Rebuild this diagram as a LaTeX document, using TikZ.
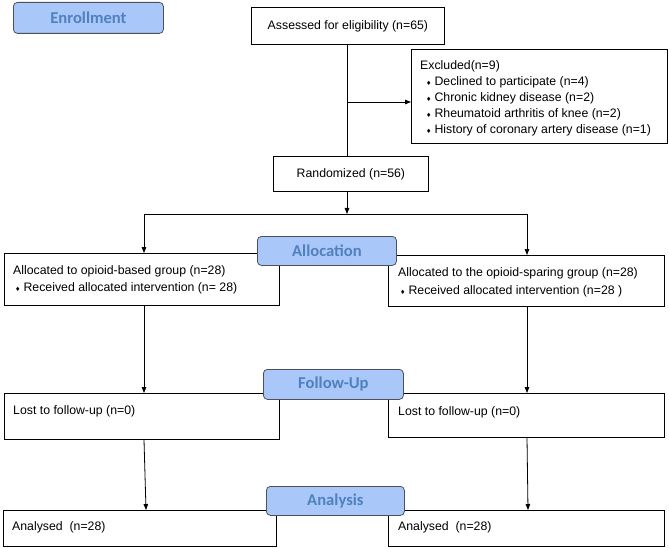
\documentclass[tikz,border=0pt]{standalone}
\usepackage{fontspec}
\setmainfont{Liberation Sans}
\newfontfamily\hdrfont{Carlito}
\newfontfamily\symfont{DejaVu Sans}
\usetikzlibrary{arrows.meta}
\definecolor{hdrfill}{RGB}{170,199,250}
\definecolor{hdrtext}{RGB}{79,129,189}
\definecolor{hdrline}{RGB}{80,80,90}
\newcommand{\bul}{{\symfont\fontsize{6}{7}\selectfont ♦}\hspace{3pt}}
\begin{document}
\begin{tikzpicture}[x=1pt,y=-1pt,
  box/.style={draw, line width=0.8pt, anchor=north west, inner sep=0pt},
  hdr/.style={draw=hdrline, fill=hdrfill, rounded corners=4pt, line width=0.8pt,
    font=\hdrfont\bfseries\fontsize{16.6}{18}\selectfont, text=hdrtext,
    anchor=north west, inner sep=0pt},
  txt/.style={anchor=west, inner sep=0pt, font=\fontsize{12.3}{14}\selectfont},
  arr/.style={-{Triangle[length=6pt,width=4.5pt]}, line width=0.8pt},
  ln/.style={line width=0.8pt}]
\useasboundingbox (0,0) rectangle (669,548);

% boxes
\node[box, minimum width=193pt, minimum height=37pt, font=\fontsize{12.3}{14}\selectfont] (assess) at (251,7) {Assessed for eligibility (n=65)};
\node[box, minimum width=256pt, minimum height=94pt] (excl) at (411,49) {};
\node[box, minimum width=155pt, minimum height=35pt, font=\fontsize{12.3}{14}\selectfont] (rand) at (273,156) {Randomized (n=56)};
\node[box, minimum width=275pt, minimum height=52pt] (allocL) at (4,253) {};
\node[box, minimum width=276pt, minimum height=51pt] (allocR) at (388,255) {};
\node[box, minimum width=275pt, minimum height=46pt] (lostL) at (4,393) {};
\node[box, minimum width=276pt, minimum height=44pt] (lostR) at (388,393) {};
\node[box, minimum width=273pt, minimum height=36pt] (anaL) at (3,510) {};
\node[box, minimum width=276pt, minimum height=36pt] (anaR) at (388,510) {};

% texts
\node[txt] (ex0) at (420,66) {Excluded(n=9)};
\node[txt] (ex1) at (426,82) {\bul Declined to participate (n=4)};
\node[txt] (ex2) at (426,98) {\bul Chronic kidney disease (n=2)};
\node[txt] (ex3) at (426,114) {\bul Rheumatoid arthritis of knee (n=2)};
\node[txt] (ex4) at (426,130) {\bul History of coronary artery disease (n=1)};
\node[txt] (aL1) at (13,271) {Allocated to opioid-based group (n=28)};
\node[txt] (aL2) at (15,288) {\bul Received allocated intervention (n= 28)};
\node[txt] (aR1) at (398,273) {Allocated to the opioid-sparing group (n=28)};
\node[txt] (aR2) at (400,291) {\bul Received allocated intervention (n=28 )};
\node[txt] (lL) at (13,411) {Lost to follow-up (n=0)};
\node[txt] (lR) at (398,412) {Lost to follow-up (n=0)};
\node[txt] (nL) at (12,527) {Analysed\ \ (n=28)};
\node[txt] (nR) at (398,527) {Analysed\ \ (n=28)};

% connectors
\coordinate (exj) at (347,102);
\coordinate (split) at (347,214);
\coordinate (sL) at (144,214);
\coordinate (sR) at (527,214);
\coordinate (sL2) at (146,214);
\coordinate (sR2) at (528,214);
\draw[ln] (exj |- assess.south) -- (exj |- rand.north);
\draw[arr] (exj) -- (excl.west |- exj);
\draw[arr] (split |- rand.south) -- (split);
\draw[ln] (sL) -- (sR);
\draw[arr] (sL) -- (sL |- allocL.north);
\draw[arr] (sR) -- (sR |- allocR.north);
\draw[arr] (sL |- allocL.south) -- (sL |- lostL.north);
\draw[arr] (sR |- allocR.south) -- (sR |- lostR.north);
\draw[arr] (sL |- lostL.south) -- (sL2 |- anaL.north);
\draw[arr] (sR |- lostR.south) -- (sR2 |- anaR.north);

% stage headers
\node[hdr, minimum width=150pt, minimum height=31pt] (enr) at (13,2) {Enrollment};
\node[hdr, minimum width=139pt, minimum height=29pt] (alc) at (257,236) {Allocation};
\node[hdr, minimum width=140pt, minimum height=30pt] (fup) at (263,369) {Follow-Up};
\node[hdr, minimum width=138pt, minimum height=29pt] (anl) at (266,486) {Analysis};
\end{tikzpicture}
\end{document}
